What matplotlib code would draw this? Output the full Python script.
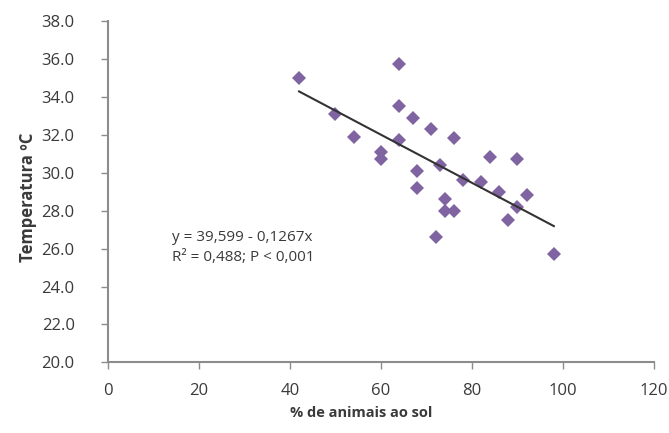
import numpy as np
import matplotlib
matplotlib.use("Agg")
import matplotlib.pyplot as plt

# data
pct_sol = [42, 50, 54, 60, 60, 64, 64, 64, 67, 68, 68, 71, 72, 73,
           74, 74, 76, 76, 78, 82, 84, 86, 88, 90, 90, 92, 98]
temperatura = [35.0, 33.1, 31.9, 31.1, 30.7, 35.7, 33.5, 31.7, 32.9, 30.1, 29.2, 32.3, 26.6, 30.4,
               28.6, 28.0, 28.0, 31.8, 29.6, 29.5, 30.8, 29.0, 27.5, 30.7, 28.2, 28.8, 25.7]

# regression from the chart
intercept = 39.599
slope = -0.1267

x_ticks = [0, 20, 40, 60, 80, 100, 120]
y_ticks = [20, 22, 24, 26, 28, 30, 32, 34, 36, 38]

plt.rcParams['font.family'] = ['Open Sans', 'DejaVu Sans']

fig = plt.figure(figsize=(6.69, 4.33), dpi=100)
ax = fig.add_axes([0.1614, 0.163, 0.8161, 0.789])

ax.plot(pct_sol, temperatura, linestyle='none', marker='D', markersize=7,
        color='#8064A2', markeredgewidth=0, zorder=3)

x_line = np.array([min(pct_sol), max(pct_sol)])
ax.plot(x_line, intercept + slope * x_line, color='#333333', linewidth=1.5, zorder=4)

ax.set_xlim(0, 120)
ax.set_ylim(20, 38)
ax.set_xticks(x_ticks)
ax.set_yticks(y_ticks)
ax.set_xticklabels([str(v) for v in x_ticks])
ax.set_yticklabels(['%.1f' % v for v in y_ticks])

for side in ['top', 'right']:
    ax.spines[side].set_visible(False)
for side in ['left', 'bottom']:
    ax.spines[side].set_color('#8c8c8c')
    ax.spines[side].set_linewidth(1.5)

ax.tick_params(axis='both', direction='out', length=5, width=1, color='#8c8c8c',
               labelsize=12, labelcolor='#3a3a3a')
ax.tick_params(axis='x', pad=10)
ax.tick_params(axis='y', pad=19)

ax.set_xlabel('% de animais ao sol', fontsize=10.5, fontweight='bold', color='#3a3a3a')
ax.xaxis.set_label_coords(0.463, -0.127)
ax.set_ylabel('Temperatura ºC', fontsize=12, fontweight='bold', color='#3a3a3a')
ax.yaxis.set_label_coords(-0.13, 0.484)

ax.text(0.117, 0.335, 'y = 39,599 - 0,1267x\nR² = 0,488; P < 0,001', transform=ax.transAxes,
        fontsize=11, color='#3a3a3a', linespacing=1.45, va='center', ha='left')

fig.savefig('out.png', dpi=100)
